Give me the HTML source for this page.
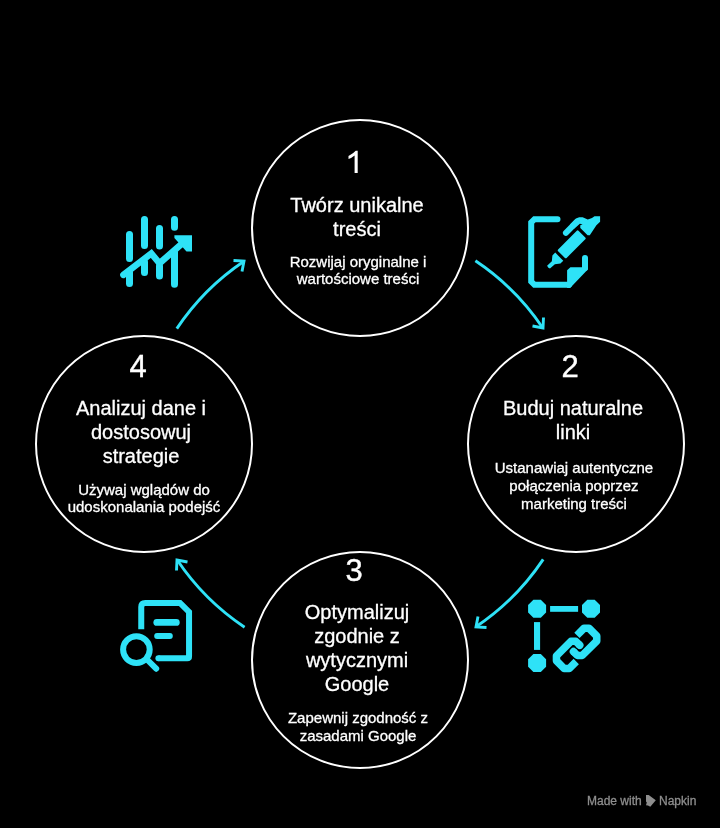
<!DOCTYPE html>
<html><head><meta charset="utf-8">
<style>
html,body{margin:0;padding:0;background:#000;}
body{width:720px;height:828px;position:relative;overflow:hidden;font-family:"Liberation Sans",sans-serif;color:#fff;}
svg{position:absolute;left:0;top:0;}
.t{position:absolute;will-change:transform;-webkit-text-stroke:0.3px #fff;white-space:nowrap;text-align:center;width:300px;line-height:1;}
.n{font-size:31px;-webkit-text-stroke:0.4px #fff;}
.h{font-size:20px;}
.s{font-size:15px;}
.wm{position:absolute;top:794.5px;font-size:12px;color:#8e8e8e;white-space:nowrap;line-height:1;will-change:transform;-webkit-text-stroke:0.3px #8e8e8e;}
</style></head><body>
<svg width="720" height="828" viewBox="0 0 720 828">
 <g fill="none" stroke="#fff" stroke-width="2">
  <circle cx="360" cy="228" r="108"/>
  <circle cx="576" cy="444" r="108"/>
  <circle cx="360" cy="660" r="108"/>
  <circle cx="144" cy="444" r="108"/>
 </g>
 <g fill="none" stroke="#2ee2f7" stroke-width="2.9" stroke-linecap="butt" stroke-linejoin="miter">
  <path d="M475.4 260.8 A245 245 0 0 1 542.8 328.0"/>
  <path d="M532.5 326.0 L543.0 328.0 L543.5 317.5"/>
  <path d="M543.2 559.4 A245 245 0 0 1 476.0 626.8"/>
  <path d="M478.0 616.5 L476.0 627.0 L486.5 627.5"/>
  <path d="M244.6 627.2 A245 245 0 0 1 177.2 560.0"/>
  <path d="M187.5 562.0 L177.0 560.0 L176.5 570.5"/>
  <path d="M176.8 328.6 A245 245 0 0 1 244.0 261.2"/>
  <path d="M242.0 271.5 L244.0 261.0 L233.5 260.5"/>
 </g>
 <!-- icon 1: chart -->
 <g stroke="#2ee2f7" fill="none" stroke-width="7" stroke-linecap="round">
  <path d="M129.5 234.5V258.5 M144.5 219.5V245.5 M159.5 228.5V246 M174.5 219.5V227.3"/>
  <path d="M129.5 272V283.5 M144.5 262V272.5 M159.5 266V276 M174.5 252V284.2"/>
 </g>
 <g stroke="#2ee2f7" fill="none" stroke-width="6.5" stroke-linecap="round" stroke-linejoin="miter">
  <path d="M123.4 274.9 L151.3 253.5 L159.5 263.3 L181 244.5"/>
 </g>
 <polygon fill="#2ee2f7" points="174.4,235.3 192,235.3 192,251.5 186.5,251.5 174.4,238"/>
 <!-- icon 2: doc + pen -->
 <g stroke="#2ee2f7" fill="none" stroke-width="6" stroke-linejoin="miter" stroke-linecap="round">
  <path d="M557.5 219.2 L534.5 219.2 L531.2 222.5 L531.2 281.5 L534.5 284.8 L569 284.8"/>
  <path d="M585 258.1 V268"/>
  <path d="M565.9 232.8 L576.5 222.2" stroke-width="5.9"/>
 </g>
 <polygon fill="#2ee2f7" points="567.1,270.3 570.4,267.3 582,267.3 582,258 588,258 588,269.3 570.1,287.9 567.1,287.9"/>
 <g fill="#2ee2f7" transform="translate(571.7 244.35) rotate(-45)">
  <rect x="-14.4" y="-6" width="28.8" height="12" rx="1.2"/>
  <polygon points="-17.5,-5.8 -17.5,5.6 -21.5,5.6 -26,2.2 -32.5,1.8 -33,0 -32.5,-2.3 -26,-2.1 -21.5,-5.8"/>
 </g>
 <polygon fill="#2ee2f7" points="570,224.5 575.9,218.4 579.2,217.3 582.6,217.3 587.8,219.5 592,218.1 594.5,216.2 600.1,216.2 600.1,221.7 596.4,225.3 589.8,235.3 587.6,235.3 580.3,228.1 580.3,225.3 582.6,224.2 579.8,223.7 574,228.8"/>
 <!-- icon 3: nodes + link -->
 <g fill="#2ee2f7">
  <polygon points="533.4,599.8 540.8,599.8 546.1,605.1 546.1,612.5 540.8,617.8 533.4,617.8 528.1,612.5 528.1,605.1"/>
  <polygon points="587.3,599.8 594.7,599.8 600,605.1 600,612.5 594.7,617.8 587.3,617.8 582,612.5 582,605.1"/>
  <polygon points="533.4,654 540.8,654 546.1,659.3 546.1,666.7 540.8,672 533.4,672 528.1,666.7 528.1,659.3"/>
  <rect x="550.1" y="606" width="28" height="5.8"/>
  <rect x="534" y="622.1" width="6.1" height="27.8"/>
 </g>
 <g fill="none" stroke="#2ee2f7" stroke-width="7.5" transform="translate(576.6 648.4) rotate(-45)">
  <path d="M-9.5 9 L-19.5 9 L-23 5.5 L-23 -5.5 L-19.5 -9 L0.95 -9 L4.45 -5.5 L4.45 0" stroke-linejoin="round"/>
  <path d="M9.5 -9 L19.5 -9 L23 -5.5 L23 5.5 L19.5 9 L-0.95 9 L-4.45 5.5 L-4.45 0" stroke-linejoin="round"/>
  <circle cx="4.45" cy="0" r="3.75" fill="#2ee2f7" stroke="none"/>
  <circle cx="-4.45" cy="0" r="3.75" fill="#2ee2f7" stroke="none"/>
 </g>
 <!-- icon 4: doc + magnifier -->
 <g fill="none" stroke="#2ee2f7" stroke-width="6">
  <path d="M141.25 629.3 L141.25 607 Q141.25 602.95 145.3 602.95 L180 602.95 L189.05 612 L189.05 656.5 Q189.05 658.25 187.3 658.25 L158.4 658.25" stroke-linecap="butt"/>
  <path d="M158.4 658.25 L158.4 658.25" stroke-linecap="round"/>
  <circle cx="136.4" cy="649.6" r="13.3"/>
  <path d="M147.5 660 L156.2 668.7" stroke-linecap="round"/>
  <path d="M156.8 622.4 H176.3" stroke-width="6.8" stroke-linecap="round"/>
  <path d="M157.1 636 H169.9" stroke-width="5.8" stroke-linecap="round"/>
 </g>
</svg>

<!-- circle 1 -->
<svg width="720" height="828" style="position:absolute;left:0;top:0"><path fill="#fff" d="M357.7 150.8 L357.7 173 L354.6 173 L354.6 155.4 Q351.9 157.7 348.5 158.9 L348.5 155.9 Q353.4 153.6 355.7 150.8 Z"/></svg>
<div class="t h" style="left:207.3px;top:194.6px">Twórz unikalne</div>
<div class="t h" style="left:207.3px;top:218.5px">treści</div>
<div class="t s" style="left:208.0px;top:253.5px">Rozwijaj oryginalne i</div>
<div class="t s" style="left:208.0px;top:271.1px">wartościowe treści</div>
<!-- circle 2 -->
<div class="t n" style="left:419.5px;top:350.9px">2</div>
<div class="t h" style="left:423.3px;top:398.1px">Buduj naturalne</div>
<div class="t h" style="left:423.3px;top:422.4px">linki</div>
<div class="t s" style="left:424.0px;top:460.4px">Ustanawiaj autentyczne</div>
<div class="t s" style="left:424.0px;top:478.1px">połączenia poprzez</div>
<div class="t s" style="left:424.0px;top:495.8px">marketing treści</div>
<!-- circle 3 -->
<div class="t n" style="left:203.5px;top:554.5px">3</div>
<div class="t h" style="left:207.3px;top:601.9px">Optymalizuj</div>
<div class="t h" style="left:207.3px;top:625.9px">zgodnie z</div>
<div class="t h" style="left:207.3px;top:649.9px">wytycznymi</div>
<div class="t h" style="left:207.3px;top:673.9px">Google</div>
<div class="t s" style="left:208.0px;top:710.1px">Zapewnij zgodność z</div>
<div class="t s" style="left:208.0px;top:727.5px">zasadami Google</div>
<!-- circle 4 -->
<div class="t n" style="left:-12.5px;top:351.0px">4</div>
<div class="t h" style="left:-8.7px;top:398.1px">Analizuj dane i</div>
<div class="t h" style="left:-8.7px;top:422.4px">dostosowuj</div>
<div class="t h" style="left:-8.7px;top:446.4px">strategie</div>
<div class="t s" style="left:-5.8px;top:481.8px">Używaj wglądów do</div>
<div class="t s" style="left:-5.8px;top:499.3px">udoskonalania podejść</div>

<div class="wm" style="left:586.7px">Made with</div>
<div class="wm" style="left:659px">Napkin</div>
<svg width="720" height="828" style="position:absolute;left:0;top:0"><polygon fill="#8e8e8e" points="646,795 648.7,795 655.8,800.2 650.3,806.7 648,805.5 646,805.3 646.8,802.5 646,801.5"/></svg>
</body></html>
